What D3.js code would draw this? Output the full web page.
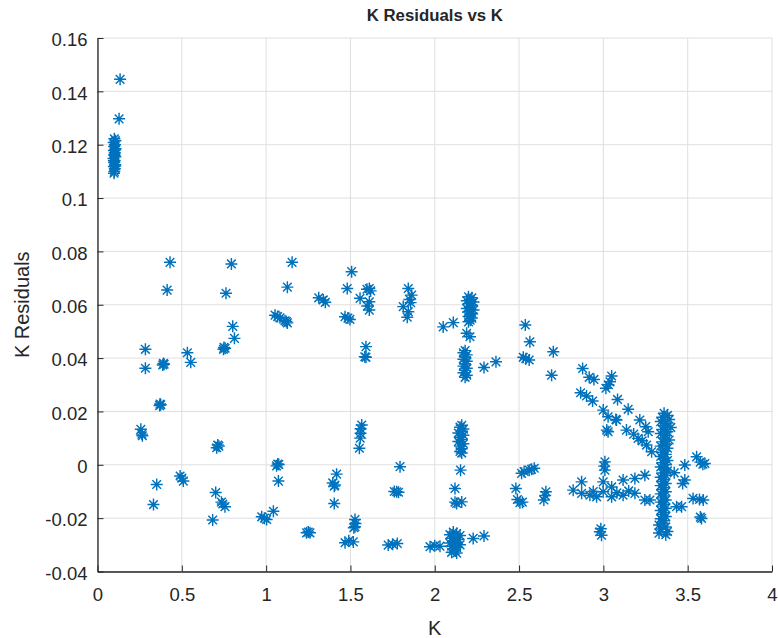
<!DOCTYPE html>
<html>
<head>
<meta charset="utf-8">
<script src="https://cdn.jsdelivr.net/npm/d3@7/dist/d3.min.js"></script>
<style>
  html, body { margin: 0; padding: 0; background: #ffffff; }
  svg text { font-family: "Liberation Sans", Arial, Helvetica, sans-serif; fill: #262626; }
</style>
</head>
<body>
<svg id="chart" width="778" height="638"></svg>
<script>
// K values and their residuals, grouped by the clusters they form
const lowKGroup = [
  [0.134, 0.1445], [0.128, 0.1297],
  [0.100, 0.1222], [0.106, 0.1215], [0.096, 0.1208], [0.104, 0.1200], [0.099, 0.1193],
  [0.107, 0.1185], [0.097, 0.1178], [0.103, 0.1170], [0.100, 0.1163], [0.106, 0.1155],
  [0.095, 0.1148], [0.102, 0.1140], [0.099, 0.1133], [0.105, 0.1125], [0.097, 0.1118],
  [0.103, 0.1110], [0.100, 0.1100], [0.098, 0.1093], [0.104, 0.1180], [0.101, 0.1160],
  [0.097, 0.1140], [0.105, 0.1120]
];
const arcGroup = [
  [0.430, 0.0759], [0.413, 0.0655], [0.794, 0.0753], [0.762, 0.0643], [1.154, 0.0759],
  [1.126, 0.0666], [1.312, 0.0626], [1.351, 0.0609], [1.339, 0.0618],
  [1.053, 0.0561], [1.068, 0.0556], [1.082, 0.0551], [1.112, 0.0540], [1.126, 0.0532], [1.120, 0.0537],
  [0.802, 0.0519], [0.812, 0.0474], [0.750, 0.0440], [0.747, 0.0433], [0.757, 0.0437],
  [0.284, 0.0433], [0.284, 0.0362], [0.533, 0.0420], [0.553, 0.0384],
  [0.391, 0.0380], [0.387, 0.0374], [0.395, 0.0377],
  [0.371, 0.0228], [0.368, 0.0222], [0.375, 0.0225],
  [0.257, 0.0133], [0.263, 0.0115], [0.266, 0.0109],
  [0.713, 0.0074], [0.707, 0.0064], [0.720, 0.0070],
  [1.069, 0.0003], [1.062, -0.0004], [1.075, 0.0001], [1.073, -0.0061],
  [0.351, -0.0074], [0.332, -0.0149],
  [0.490, -0.0042], [0.509, -0.0061], [0.500, -0.0050],
  [0.701, -0.0104], [0.743, -0.0147], [0.756, -0.0157], [0.735, -0.0140],
  [0.683, -0.0207],
  [0.974, -0.0195], [1.003, -0.0205], [0.990, -0.0200], [1.043, -0.0174],
  [1.240, -0.0255], [1.260, -0.0255], [1.250, -0.0252],
  [1.418, -0.0035], [1.408, -0.0076], [1.395, -0.0068], [1.404, -0.0080], [1.404, -0.0145],
  [1.468, -0.0292], [1.517, -0.0289], [1.490, -0.0285],
  [1.527, -0.0205], [1.527, -0.0232], [1.520, -0.0236], [1.530, -0.0220]
];
const midGroup = [
  [1.507, 0.0724], [1.481, 0.0661], [1.468, 0.0555], [1.497, 0.0545], [1.485, 0.0550],
  [1.612, 0.0661], [1.598, 0.0658], [1.620, 0.0652], [1.557, 0.0624], [1.612, 0.0611],
  [1.612, 0.0580], [1.600, 0.0595],
  [1.843, 0.0661], [1.863, 0.0636], [1.857, 0.0608], [1.813, 0.0593], [1.843, 0.0574],
  [1.837, 0.0553], [1.850, 0.0620],
  [1.592, 0.0443], [1.592, 0.0403], [1.585, 0.0405],
  [1.567, 0.0149], [1.560, 0.0135], [1.560, 0.0118], [1.553, 0.0062], [1.558, 0.0100],
  [1.794, -0.0007], [1.774, -0.0101], [1.760, -0.0100], [1.785, -0.0103],
  [1.724, -0.0301], [1.778, -0.0295], [1.750, -0.0298],
  [1.972, -0.0307], [2.031, -0.0305], [2.000, -0.0303],
  [2.11, -0.0252], [2.13, -0.0258], [2.09, -0.0262], [2.15, -0.0265], [2.12, -0.0270],
  [2.10, -0.0275], [2.14, -0.0280], [2.11, -0.0285], [2.13, -0.0290], [2.09, -0.0293],
  [2.12, -0.0298], [2.15, -0.0300], [2.10, -0.0305], [2.13, -0.0310], [2.11, -0.0316],
  [2.12, -0.0322], [2.10, -0.0328], [2.13, -0.0331],
  [2.228, -0.0276], [2.292, -0.0267],
  [2.050, 0.0517], [2.110, 0.0533],
  [2.20, 0.0630], [2.22, 0.0626], [2.21, 0.0620], [2.19, 0.0615], [2.23, 0.0610],
  [2.20, 0.0604], [2.22, 0.0598], [2.21, 0.0592], [2.19, 0.0586], [2.23, 0.0580],
  [2.20, 0.0574], [2.22, 0.0568], [2.21, 0.0562], [2.20, 0.0556], [2.22, 0.0550],
  [2.21, 0.0542], [2.20, 0.0536],
  [2.189, 0.0493], [2.209, 0.0480],
  [2.18, 0.0428], [2.17, 0.0420], [2.19, 0.0412], [2.18, 0.0404], [2.17, 0.0396],
  [2.19, 0.0388], [2.18, 0.0378], [2.17, 0.0370], [2.19, 0.0362], [2.18, 0.0354],
  [2.17, 0.0345], [2.19, 0.0336], [2.18, 0.0328],
  [2.292, 0.0365], [2.363, 0.0386],
  [2.16, 0.0148], [2.15, 0.0141], [2.17, 0.0134], [2.16, 0.0126], [2.14, 0.0119],
  [2.17, 0.0111], [2.15, 0.0103], [2.16, 0.0095], [2.14, 0.0087], [2.17, 0.0079],
  [2.15, 0.0070], [2.16, 0.0060], [2.15, 0.0050], [2.16, 0.0044],
  [2.153, -0.0020], [2.120, -0.0089], [2.130, -0.0145], [2.160, -0.0139], [2.120, -0.0140],
  [2.537, 0.0524], [2.564, 0.0461], [2.525, 0.0403], [2.560, 0.0393], [2.540, 0.0398],
  [2.703, 0.0424], [2.693, 0.0336],
  [2.515, -0.0032], [2.530, -0.0025], [2.574, -0.0017], [2.590, -0.0013], [2.560, -0.0020],
  [2.481, -0.0089], [2.490, -0.0130], [2.505, -0.0142], [2.520, -0.0140],
  [2.659, -0.0101], [2.647, -0.0132], [2.655, -0.0115]
];
const highKGroup = [
  [2.877, 0.0361], [2.916, 0.0328], [2.944, 0.0320], [3.049, 0.0333], [3.039, 0.0311],
  [3.015, 0.0287], [3.030, 0.0300],
  [2.865, 0.0270], [2.900, 0.0258], [2.936, 0.0239], [3.084, 0.0245], [3.147, 0.0208],
  [2.999, 0.0205], [3.028, 0.0180], [3.074, 0.0170], [3.028, 0.0124], [3.020, 0.0130],
  [3.078, 0.0168], [3.137, 0.0130], [3.216, 0.0168], [3.206, 0.0099], [3.266, 0.0124],
  [3.256, 0.0074], [3.286, 0.0049], [3.251, 0.0143], [3.230, 0.0090], [3.180, 0.0115],
  [3.009, 0.0011], [3.009, -0.0020], [3.005, -0.0005],
  [2.821, -0.0095], [2.871, -0.0064], [2.871, -0.0107], [2.920, -0.0114], [2.960, -0.0120],
  [2.999, -0.0064], [2.999, -0.0101], [3.049, -0.0083], [3.049, -0.0120], [3.117, -0.0057],
  [3.117, -0.0114], [3.187, -0.0051], [3.187, -0.0107], [3.246, -0.0039], [3.246, -0.0132],
  [3.276, -0.0132], [2.940, -0.0100], [3.080, -0.0105], [3.150, -0.0098],
  [2.979, -0.0251], [2.989, -0.0264], [2.985, -0.0240],
  [3.483, -0.0001], [3.553, 0.0030], [3.602, 0.0005], [3.590, 0.0002], [3.575, 0.0010],
  [3.483, -0.0057], [3.464, -0.0157], [3.532, -0.0126], [3.592, -0.0132], [3.570, -0.0130],
  [3.582, -0.0201], [3.575, -0.0196], [3.434, -0.0157], [3.470, -0.0070], [3.420, -0.0030]
];
const columnGroup = [
  [3.36, 0.0193], [3.38, 0.0185], [3.35, 0.0178], [3.39, 0.0170], [3.34, 0.0162],
  [3.37, 0.0155], [3.36, 0.0147], [3.40, 0.0140], [3.35, 0.0132], [3.38, 0.0124],
  [3.34, 0.0117], [3.37, 0.0109], [3.36, 0.0101], [3.39, 0.0093], [3.35, 0.0086],
  [3.37, 0.0078], [3.34, 0.0070], [3.38, 0.0062], [3.36, 0.0055], [3.35, 0.0047],
  [3.37, 0.0039], [3.34, 0.0031], [3.36, 0.0024], [3.38, 0.0016], [3.35, 0.0008],
  [3.37, 0.0000], [3.34, -0.0008], [3.36, -0.0016], [3.38, -0.0023], [3.35, -0.0031],
  [3.37, -0.0039], [3.34, -0.0047], [3.36, -0.0054], [3.35, -0.0062], [3.37, -0.0070],
  [3.34, -0.0078], [3.36, -0.0086], [3.35, -0.0093], [3.37, -0.0101], [3.34, -0.0109],
  [3.36, -0.0117], [3.35, -0.0124], [3.37, -0.0132], [3.34, -0.0140], [3.36, -0.0148],
  [3.35, -0.0155], [3.37, -0.0163], [3.34, -0.0171], [3.36, -0.0179], [3.35, -0.0186],
  [3.37, -0.0194], [3.34, -0.0202], [3.36, -0.0210], [3.35, -0.0218], [3.33, -0.0226],
  [3.37, -0.0233], [3.34, -0.0241], [3.38, -0.0250], [3.33, -0.0256], [3.37, -0.0262]
];

const xTicks = [0, 0.5, 1, 1.5, 2, 2.5, 3, 3.5, 4];
const yTicks = [-0.04, -0.02, 0, 0.02, 0.04, 0.06, 0.08, 0.1, 0.12, 0.14, 0.16];
const xTickLabels = ["0", "0.5", "1", "1.5", "2", "2.5", "3", "3.5", "4"];
const yTickLabels = ["-0.04", "-0.02", "0", "0.02", "0.04", "0.06", "0.08", "0.1", "0.12", "0.14", "0.16"];

const points = [].concat(lowKGroup, arcGroup, midGroup, highKGroup, columnGroup);

const svg = d3.select("#chart");
const plot = { left: 97.5, right: 772, top: 38, bottom: 571.5 };

const x = d3.scaleLinear().domain([0, 4]).range([plot.left, plot.right]);
const y = d3.scaleLinear().domain([-0.04, 0.16]).range([plot.bottom, plot.top]);

const axisColor = "#262626";
const gridColor = "#dfdfdf";
const markerColor = "#0072bd";

// grid
const grid = svg.append("g");
grid.selectAll(".gx").data(xTicks).join("line")
  .attr("x1", d => x(d)).attr("x2", d => x(d))
  .attr("y1", plot.top).attr("y2", plot.bottom)
  .attr("stroke", gridColor).attr("stroke-width", 1);
grid.selectAll(".gy").data(yTicks).join("line")
  .attr("x1", plot.left).attr("x2", plot.right)
  .attr("y1", d => y(d)).attr("y2", d => y(d))
  .attr("stroke", gridColor).attr("stroke-width", 1);

// axes with inward ticks
const xAxis = d3.axisBottom(x).tickValues(xTicks)
  .tickFormat((d, i) => xTickLabels[i]).tickSizeInner(-6).tickSizeOuter(0).tickPadding(16);
const yAxis = d3.axisLeft(y).tickValues(yTicks)
  .tickFormat((d, i) => yTickLabels[i]).tickSizeInner(-6).tickSizeOuter(0).tickPadding(10);

const gx = svg.append("g").attr("transform", `translate(0,${plot.bottom})`).call(xAxis);
const gy = svg.append("g").attr("transform", `translate(${plot.left},0)`).call(yAxis);
[gx, gy].forEach(g => {
  g.select(".domain").attr("stroke", axisColor).attr("stroke-width", 1.3);
  g.selectAll(".tick line").attr("stroke", axisColor).attr("stroke-width", 1);
  g.selectAll(".tick text").attr("fill", axisColor)
    .style("font-size", "18.5px").style("font-family", "'Liberation Sans', Arial, sans-serif");
});
gy.selectAll(".tick text").attr("dy", "0.42em");

// asterisk markers
const r = 6, dd = r * 0.72;
const starPath = `M${-r},0L${r},0M0,${-r}L0,${r}M${-dd},${-dd}L${dd},${dd}M${-dd},${dd}L${dd},${-dd}`;
svg.append("g").selectAll("path").data(points).join("path")
  .attr("transform", d => `translate(${x(d[0])},${y(d[1])})`)
  .attr("d", starPath)
  .attr("fill", "none")
  .attr("stroke", markerColor)
  .attr("stroke-width", 1.45);

// title and axis labels
svg.append("text").attr("x", (plot.left + plot.right) / 2).attr("y", 21)
  .attr("text-anchor", "middle").style("font-size", "16.8px").style("font-weight", "bold")
  .text("K Residuals vs K");
svg.append("text").attr("x", (plot.left + plot.right) / 2).attr("y", 635)
  .attr("text-anchor", "middle").style("font-size", "20px").text("K");
svg.append("text")
  .attr("transform", `translate(29,${(plot.top + plot.bottom) / 2}) rotate(-90)`)
  .attr("text-anchor", "middle").style("font-size", "20px").text("K Residuals");
</script>
</body>
</html>
